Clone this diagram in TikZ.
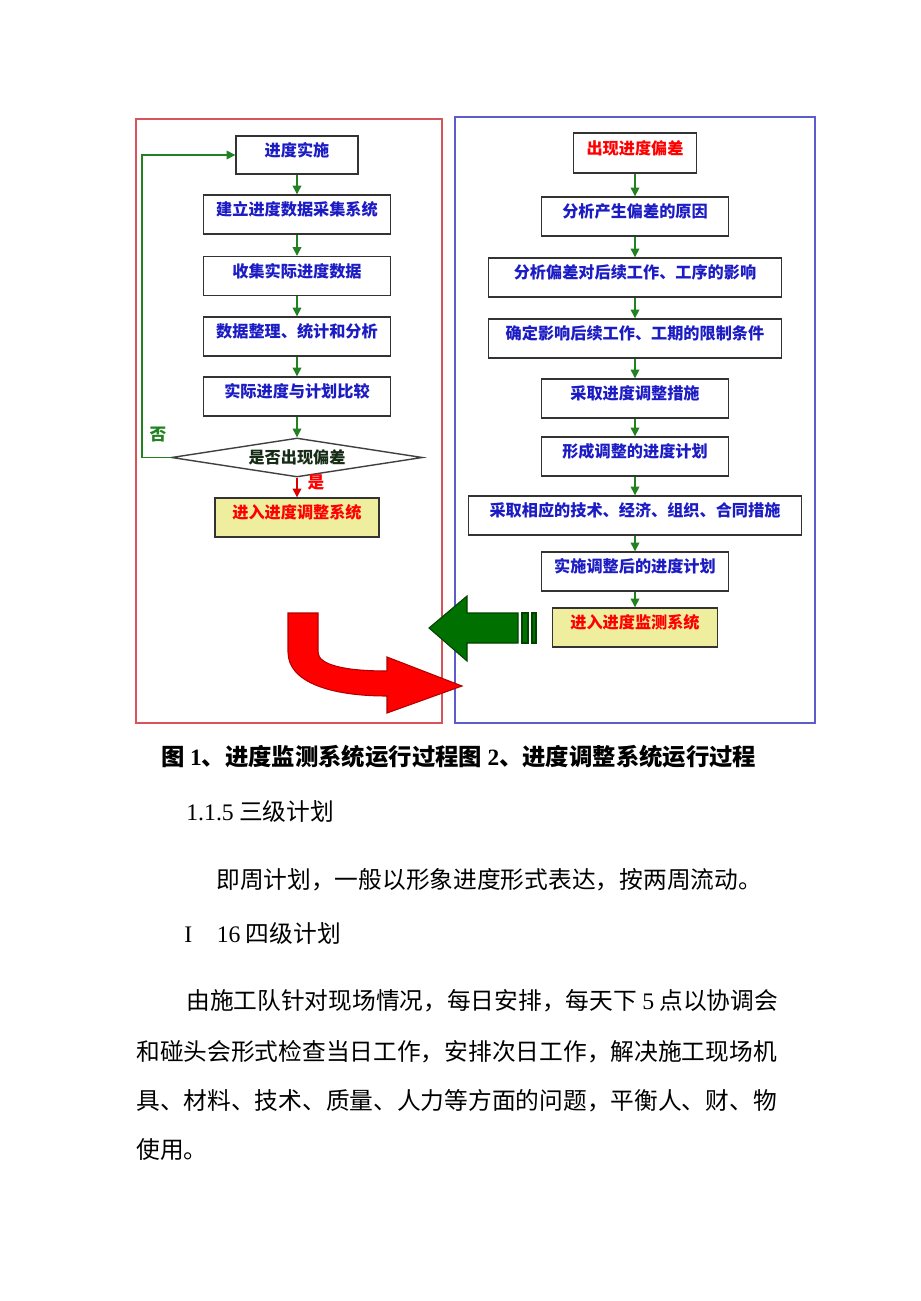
\documentclass[tikz,border=0pt]{standalone}
\usepackage{fontspec}
\setmainfont{Liberation Serif}
\newfontfamily\cjk{Noto Sans CJK SC}
\usepackage{tikz}
\usetikzlibrary{positioning,shapes.geometric,arrows.meta,calc}
\definecolor{boxblue}{RGB}{28,28,196}
\definecolor{flowgreen}{RGB}{34,130,34}
\definecolor{paleyellow}{RGB}{238,238,158}
\definecolor{frameRed}{RGB}{214,84,90}
\definecolor{frameBlue}{RGB}{92,92,206}
\definecolor{bigGreen}{RGB}{0,112,0}
\definecolor{diaText}{RGB}{22,44,22}
\tikzset{
    stepbox/.style={draw=black!80, line width=0.8pt, inner sep=0pt,
        minimum width=187*0.02cm, minimum height=39*0.02cm,
        text height=8pt, text depth=6.5pt,
        font=\cjk\bfseries\fontsize{9.2}{11}\selectfont, text=boxblue},
    exitbox/.style={stepbox, fill=paleyellow, text=red},
    flowarrow/.style={flowgreen, line width=0.8pt, -{Triangle[length=5pt,width=5pt]}},
    yesarrow/.style={flowarrow, red!85!black},
    bodytext/.style={anchor=west, inner sep=0pt, font=\cjk\fontsize{13.5}{16}\selectfont}
}

\begin{document}
\begin{tikzpicture}[x=0.02cm, y=-0.02cm]
            \useasboundingbox (0,0) rectangle (920,1301);
            % frames
            \draw[frameRed, line width=0.8pt] (136,119) rectangle (442,723);
            \draw[frameBlue, line width=0.8pt] (455,117) rectangle (815,723);
            % monitoring system
            \node[stepbox, minimum width=122*0.02cm, minimum height=38*0.02cm] (l1) at (297,155) {进度实施};
            \node[stepbox] (l2) at (297,214.5) {建立进度数据采集系统};
            \node[stepbox] (l3) at (297,276) {收集实际进度数据};
            \node[stepbox] (l4) at (297,336.5) {数据整理、统计和分析};
            \node[stepbox] (l5) at (297,396.5) {实际进度与计划比较};
            \node[diamond, aspect=6.4, draw=black!75, line width=0.8pt, inner sep=0pt,
                minimum width=251*0.02cm, minimum height=39*0.02cm,
                font=\cjk\bfseries\fontsize{9.2}{11}\selectfont, text=diaText] (dia) at (297,457.5) {是否出现偏差};
            \node[exitbox, minimum width=164*0.02cm] (l6) at (297,517.5) {进入进度调整系统};
            \foreach \a/\b in {l1/l2,l2/l3,l3/l4,l4/l5,l5/dia}
                \draw[flowarrow] (\a) -- (\b);
            \draw[flowarrow] (dia.west) -- ++(-29,0) |- (l1.west);
            \draw[yesarrow] (dia.south) -- (l6.north);
            \node[font=\cjk\bfseries\fontsize{9.5}{11}\selectfont, text=flowgreen] (no) at (158,435) {否};
            \node[font=\cjk\bfseries\fontsize{9.5}{11}\selectfont, text=red] (yes) at (316,482) {是};
            % adjusting system
            \node[stepbox, minimum width=123*0.02cm, minimum height=40*0.02cm, text=red] (r1) at (635,153) {出现进度偏差};
            \node[stepbox] (r2) at (635,216.5) {分析产生偏差的原因};
            \node[stepbox, minimum width=293*0.02cm] (r3) at (635,277.5) {分析偏差对后续工作、工序的影响};
            \node[stepbox, minimum width=293*0.02cm] (r4) at (635,338.5) {确定影响后续工作、工期的限制条件};
            \node[stepbox] (r5) at (635,398.5) {采取进度调整措施};
            \node[stepbox] (r6) at (635,456.5) {形成调整的进度计划};
            \node[stepbox, minimum width=333*0.02cm] (r7) at (635,515.5) {采取相应的技术、经济、组织、合同措施};
            \node[stepbox] (r8) at (635,571.5) {实施调整后的进度计划};
            \node[exitbox, minimum width=165*0.02cm] (r9) at (635,627.5) {进入进度监测系统};
            \foreach \a/\b in {r1/r2,r2/r3,r3/r4,r4/r5,r5/r6,r6/r7,r7/r8,r8/r9}
                \draw[flowarrow] (\a) -- (\b);
            % block arrows
            \filldraw[fill=bigGreen, draw=black!40!bigGreen, line width=0.6pt]
                (429,628) -- (467,596) -- (467,613) -- (518,613) -- (518,643) -- (467,643) -- (467,661) -- cycle;
            \filldraw[fill=bigGreen, draw=black!40!bigGreen, line width=0.6pt] (522,613) rectangle (528,643);
            \filldraw[fill=bigGreen, draw=black!40!bigGreen, line width=0.6pt] (532,613) rectangle (536,643);
            \filldraw[fill=red, draw=black!30!red, line width=0.6pt]
                (288,613) -- (318,613) -- (318,652) .. controls (318,665) and (345,671) .. (387,671)
                -- (387,657) -- (462,686) -- (387,713) -- (387,696)
                .. controls (330,696) and (288,682) .. (288,652) -- cycle;
            % text below
            \node[bodytext, font=\cjk\bfseries\fontsize{13.3}{15}\selectfont] (cap) at (161,757)
                {图 {\rmfamily 1}、进度监测系统运行过程图 {\rmfamily 2}、进度调整系统运行过程};
            \node[bodytext] (h1) at (186,811) {{\rmfamily 1.1.5} 三级计划};
            \node[bodytext] (p1) at (216,880) {即周计划，一般以形象进度形式表达，按两周流动。};
            \node[bodytext] (h2) at (184,933) {{\rmfamily I}\hspace{14pt}{\rmfamily 16} 四级计划};
            \node[bodytext] (p2) at (186,1001) {由施工队针对现场情况，每日安排，每天下 {\rmfamily 5} 点以协调会};
            \node[bodytext] (p3) at (136,1052) {和碰头会形式检查当日工作，安排次日工作，解决施工现场机};
            \node[bodytext] (p4) at (136,1101) {具、材料、技术、质量、人力等方面的问题，平衡人、财、物};
            \node[bodytext] (p5) at (136,1150) {使用。};
\end{tikzpicture}
\end{document}
